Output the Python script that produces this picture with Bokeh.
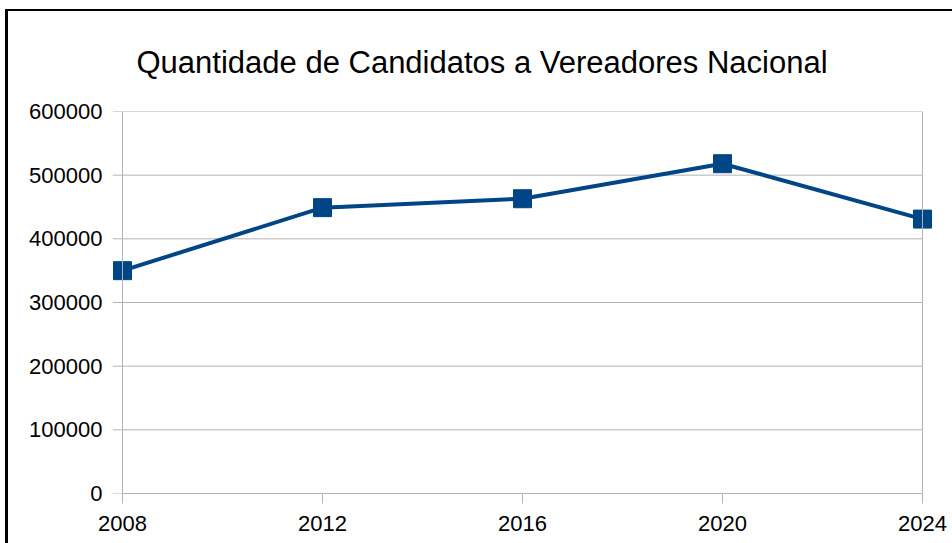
from bokeh.plotting import figure
from bokeh.embed import file_html
from bokeh.resources import INLINE
from bokeh.models import FixedTicker, Range1d, Span

years = [2008, 2012, 2016, 2020, 2024]
candidates = [350000, 449000, 463000, 518000, 431000]
y_ticks = [0, 100000, 200000, 300000, 400000, 500000, 600000]
title_text = "Quantidade de Candidatos a Vereadores Nacional"

FONT = "Liberation Sans"
GRID = "#b3b3b3"
SERIES = "#004586"

# small padding so edge markers are not clipped by the frame
pad = 0.2
p = figure(frame_width=820, frame_height=382,
           min_border_left=104, min_border_top=99,
           min_border_right=20, min_border_bottom=51,
           x_range=Range1d(years[0] - pad, years[-1] + pad),
           y_range=Range1d(y_ticks[0], y_ticks[-1]),
           output_backend="svg", toolbar_location=None,
           title=title_text)

p.title.text_font = FONT
p.title.text_font_size = "31px"
p.title.text_font_style = "normal"
p.title.text_color = "#000000"
p.title.align = "left"
p.title.offset = 24
p.title.standoff = 63

# horizontal grid lines (with their outer tick part) up to the last year
p.segment(x0=[years[0] - pad] * len(y_ticks), x1=[years[-1]] * len(y_ticks),
          y0=y_ticks, y1=y_ticks, line_color=GRID, line_width=1)
# y axis line at the first year, right border at the last year
p.add_layout(Span(location=years[0], dimension="height",
                  line_color=GRID, line_width=1))
p.add_layout(Span(location=years[-1], dimension="height",
                  line_color=GRID, line_width=1))

p.line(years, candidates, line_color=SERIES, line_width=4)
p.scatter(years, candidates, marker="square", size=18,
          fill_color=SERIES, line_color=SERIES)

p.xaxis.ticker = FixedTicker(ticks=years)
p.yaxis.ticker = FixedTicker(ticks=y_ticks)
p.yaxis.formatter.use_scientific = False
p.xaxis.bounds = (years[0], years[-1])

for ax in (p.xaxis, p.yaxis):
    ax.axis_line_color = GRID
    ax.axis_line_width = 1
    ax.major_tick_line_color = GRID
    ax.major_tick_out = 10
    ax.major_tick_in = 0
    ax.minor_tick_line_color = None
    ax.major_label_text_font = FONT
    ax.major_label_text_font_size = "22px"
    ax.major_label_text_color = "#000000"
p.yaxis.axis_line_color = None
p.yaxis.major_tick_line_color = None
p.yaxis.major_tick_out = 0
p.xaxis.major_label_standoff = 12
p.yaxis.major_label_standoff = 10

p.xgrid.grid_line_color = None
p.ygrid.grid_line_color = None

p.outline_line_color = None
p.background_fill_color = "white"
p.border_fill_color = "white"

p.styles = {"border-left": "3px solid black", "border-top": "2px solid black",
            "margin-left": "5px", "margin-top": "9px"}

open("out.html", "w").write(file_html(p, INLINE))
